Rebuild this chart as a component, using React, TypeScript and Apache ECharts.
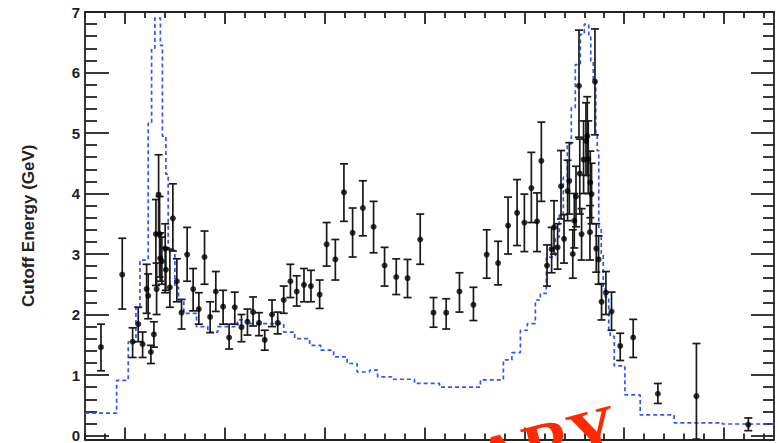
import React, { useEffect, useRef } from "react";
import * as echarts from "echarts";

// Measured cutoff energies: phase, value, lower and upper error bound (GeV)
const PHASE = [
  0.076, 0.0973, 0.1077, 0.1133, 0.1177, 0.1217, 0.1233, 0.126, 0.129, 0.131,
  0.1317, 0.1337, 0.1347, 0.1353, 0.137, 0.1403, 0.141, 0.145, 0.148, 0.152,
  0.1567, 0.1623, 0.1683, 0.174, 0.1797, 0.1853, 0.191, 0.1983, 0.2043, 0.21,
  0.2167, 0.2227, 0.2283, 0.2343, 0.24, 0.2473, 0.253, 0.259, 0.2657, 0.272,
  0.2793, 0.2863, 0.295, 0.302, 0.3107, 0.3193, 0.328, 0.3383, 0.349, 0.36,
  0.3717, 0.383, 0.3957, 0.409, 0.4217, 0.435, 0.449, 0.4623, 0.4737, 0.4837,
  0.4927, 0.5, 0.507, 0.5127, 0.517, 0.5227, 0.5273, 0.5297, 0.5333, 0.5367,
  0.5397, 0.5433, 0.545, 0.5485, 0.55, 0.5517, 0.5547, 0.5555, 0.5573, 0.5593,
  0.5617, 0.563, 0.564, 0.5657, 0.566, 0.5673, 0.5707, 0.572, 0.5743, 0.5773,
  0.5817, 0.5873, 0.596, 0.609, 0.6337, 0.6723, 0.7243,
];
const CUTOFF = [
  1.46, 2.66, 1.55, 1.84, 1.51, 2.42, 2.31, 1.38, 1.67, 3.33,
  2.42, 3.98, 3.33, 2.93, 2.88, 3.09, 2.74, 2.45, 3.59, 2.55,
  2.03, 2.99, 2.42, 2.09, 2.95, 1.96, 2.38, 2.13, 1.62, 2.12,
  1.79, 1.88, 2.04, 1.86, 1.58, 2.0, 1.86, 2.24, 2.55, 2.38,
  2.49, 2.47, 2.33, 3.16, 2.91, 4.02, 3.35, 3.76, 3.45, 2.81,
  2.62, 2.6, 3.24, 2.03, 2.03, 2.38, 2.16, 2.99, 2.85, 3.47,
  3.68, 3.52, 4.09, 3.54, 4.54, 2.81, 3.08, 3.44, 3.11, 4.12,
  3.25, 4.04, 4.21, 3.0, 3.55, 3.95, 5.78, 4.33, 3.33, 4.56,
  4.87, 4.95, 4.57, 3.36, 4.18, 3.99, 5.85, 3.09, 2.91, 2.21,
  2.36, 2.05, 1.48, 1.62, 0.69, 0.65, 0.18,
];
const CUTOFF_LO = [
  1.07, 2.09, 1.29, 1.55, 1.29, 2.02, 1.93, 1.19, 1.46, 2.48,
  2.0, 3.33, 2.62, 2.55, 2.5, 2.36, 2.4, 2.12, 3.05, 2.21,
  1.76, 2.55, 2.06, 1.84, 2.5, 1.7, 2.05, 1.84, 1.43, 1.84,
  1.55, 1.66, 1.81, 1.65, 1.41, 1.8, 1.68, 2.02, 2.28, 2.14,
  2.21, 2.21, 2.1, 2.8, 2.57, 3.54, 2.95, 3.3, 3.02, 2.47,
  2.33, 2.28, 2.83, 1.79, 1.76, 2.04, 1.9, 2.6, 2.49, 3.0,
  3.14, 3.04, 3.52, 3.04, 3.87, 2.47, 2.69, 3.0, 2.75, 3.58,
  2.85, 3.55, 3.66, 2.6, 3.1, 3.45, 4.93, 3.66, 2.9, 4.0,
  4.3, 4.3, 4.0, 2.9, 3.6, 3.5, 4.97, 2.7, 2.5, 1.91,
  2.0, 1.74, 1.24, 1.29, 0.53, -0.06, 0.08,
];
const CUTOFF_HI = [
  1.84, 3.26, 1.78, 2.12, 1.71, 2.83, 2.67, 1.49, 1.88, 3.9,
  2.85, 4.64, 3.95, 3.35, 3.28, 3.5, 3.1, 3.08, 4.16, 2.92,
  2.25, 3.44, 2.76, 2.36, 3.38, 2.21, 2.71, 2.4, 1.84, 2.37,
  2.0, 2.09, 2.29, 2.03, 1.74, 2.24, 2.04, 2.47, 2.83, 2.64,
  2.76, 2.73, 2.57, 3.52, 3.24, 4.49, 3.76, 4.21, 3.87, 3.11,
  2.92, 2.91, 3.66, 2.28, 2.26, 2.69, 2.45, 3.4, 3.21, 3.94,
  4.23, 3.99, 4.68, 4.01, 5.18, 3.15, 3.44, 3.88, 3.5, 4.71,
  3.65, 4.55, 4.84, 3.4, 4.0, 4.45, 6.7, 4.9, 3.75, 5.2,
  5.5, 5.6, 5.2, 3.8, 4.7, 4.5, 6.72, 3.5, 3.3, 2.51,
  2.71, 2.37, 1.69, 1.92, 0.86, 1.52, 0.29,
];

// Model curve: histogram bin left edges (phase) and bin contents (GeV)
const MODEL_EDGE = [
  0.06, 0.0917, 0.1033, 0.111, 0.115, 0.1233, 0.1267, 0.13, 0.1355, 0.1375,
  0.141, 0.1433, 0.15, 0.1537, 0.159, 0.1717, 0.183, 0.193, 0.2125, 0.2235,
  0.259, 0.27, 0.285, 0.296, 0.309, 0.3225, 0.3325, 0.345, 0.353, 0.367,
  0.39, 0.415, 0.456, 0.479, 0.4875, 0.496, 0.503, 0.511, 0.516, 0.522,
  0.531, 0.535, 0.539, 0.543, 0.547, 0.551, 0.556, 0.56, 0.5645, 0.5665,
  0.569, 0.5715, 0.573, 0.5745, 0.577, 0.579, 0.581, 0.5845, 0.586, 0.59,
  0.6007, 0.616, 0.65, 0.6983, 0.75,
];
const MODEL_VALUE = [
  0.37, 0.91, 1.55, 2.13, 2.9, 5.16, 6.4, 6.9, 6.45, 4.95,
  4.32, 3.06, 2.45, 2.24, 2.02, 1.8, 1.71, 1.8, 1.91, 1.85,
  1.71, 1.6, 1.49, 1.41, 1.3, 1.19, 1.05, 1.08, 0.97, 0.93,
  0.86, 0.8, 0.92, 1.25, 1.37, 1.74, 1.85, 2.24, 2.35, 2.95,
  3.28, 3.66, 4.27, 4.82, 5.42, 6.13, 6.63, 6.8, 6.6, 6.19,
  5.86, 4.98, 4.71, 3.44, 3.0, 2.45, 2.29, 1.74, 1.64, 1.15,
  0.67, 0.34, 0.21, 0.19, 0.19,
];

// Axis ranges and tick marks
const X_MIN = 0.06;
const X_MAX = 0.75;
const Y_MIN = -0.065;
const Y_MAX = 7;
const X_MAJOR = [0.1, 0.2, 0.3, 0.4, 0.5, 0.6, 0.7];
const Y_LABELS = [0, 1, 2, 3, 4, 5, 6, 7];

const FRAME = "#222";
const SANS = '"Liberation Sans", Arial, Helvetica, sans-serif';

function minorTicks(from: number, to: number, step: number, majors: number[]) {
  const out: number[] = [];
  for (let i = 0; from + i * step <= to + 1e-9; i++) {
    const v = Math.round((from + i * step) * 1000) / 1000;
    if (!majors.some((m) => Math.abs(m - v) < 1e-6)) out.push(v);
  }
  return out;
}

export default function App() {
  const ref = useRef<HTMLDivElement>(null);

  useEffect(() => {
    if (!ref.current) return;
    const chart = echarts.init(ref.current, undefined, { renderer: "svg" });

    const xMinor = minorTicks(0.06, 0.74, 0.02, X_MAJOR);
    const yMinor = minorTicks(0, 7, 0.2, Y_LABELS);

    const points = PHASE.map((p, i) => [p, CUTOFF[i], CUTOFF_LO[i], CUTOFF_HI[i]]);
    const model = MODEL_EDGE.map((e, i) => [e, MODEL_VALUE[i]]);

    const gridBox = { left: 85, top: 12, width: 689, height: 427.5 };
    const lineStyle = { color: FRAME, width: 1.8 };

    const xAxisBase = (gridIndex: number, position: "top" | "bottom", ticks: number[], len: number, showLine: boolean) => ({
      type: "value" as const,
      gridIndex,
      position,
      min: X_MIN,
      max: X_MAX,
      axisLine: { show: showLine, onZero: false, lineStyle },
      axisTick: { show: true, inside: true, length: len, customValues: ticks, lineStyle },
      axisLabel: { show: false },
      splitLine: { show: false },
    });

    const yAxisBase = (gridIndex: number, position: "left" | "right", ticks: number[], len: number, showLine: boolean, labels: boolean) => ({
      type: "value" as const,
      gridIndex,
      position,
      min: Y_MIN,
      max: Y_MAX,
      axisLine: { show: showLine, onZero: false, lineStyle },
      axisTick: { show: true, inside: true, length: len, customValues: ticks, lineStyle },
      axisLabel: labels
        ? {
            show: true,
            customValues: Y_LABELS,
            margin: 5,
            color: FRAME,
            fontFamily: SANS,
            fontWeight: "bold" as const,
            fontSize: 15,
          }
        : { show: false },
      splitLine: { show: false },
      ...(labels
        ? {
            name: "Cutoff Energy (GeV)",
            nameLocation: "middle" as const,
            nameGap: 48,
            nameTextStyle: { color: FRAME, fontFamily: SANS, fontWeight: "bold" as const, fontSize: 17 },
          }
        : {}),
    });

    chart.setOption({
      animation: false,
      backgroundColor: "#ffffff",
      grid: [
        { ...gridBox, containLabel: false },
        { ...gridBox, containLabel: false },
      ],
      xAxis: [
        xAxisBase(0, "bottom", X_MAJOR, 12, true),
        xAxisBase(0, "top", X_MAJOR, 12, true),
        xAxisBase(1, "bottom", xMinor, 6, false),
        xAxisBase(1, "top", xMinor, 6, false),
      ],
      yAxis: [
        yAxisBase(0, "left", Y_LABELS, 24, true, true),
        yAxisBase(0, "right", Y_LABELS, 23, true, false),
        yAxisBase(1, "left", yMinor, 12, false, false),
        yAxisBase(1, "right", yMinor, 11, false, false),
      ],
      series: [
        {
          name: "model",
          type: "line",
          xAxisIndex: 0,
          yAxisIndex: 0,
          step: "end",
          data: model,
          symbol: "none",
          lineStyle: { color: "#2f55ff", width: 1.7, type: [4, 3] },
          z: 2,
        },
        {
          name: "errors",
          type: "custom",
          xAxisIndex: 0,
          yAxisIndex: 0,
          data: points,
          encode: { x: 0, y: [1, 2, 3] },
          renderItem: (params: any, api: any) => {
            const x = api.value(0);
            const lo = api.coord([x, api.value(2)]);
            const hi = api.coord([x, api.value(3)]);
            const cap = 4;
            const st = { stroke: "#1a1a1a", lineWidth: 1.7 };
            return {
              type: "group",
              children: [
                { type: "line", shape: { x1: lo[0], y1: lo[1], x2: hi[0], y2: hi[1] }, style: st },
                { type: "line", shape: { x1: hi[0] - cap, y1: hi[1], x2: hi[0] + cap, y2: hi[1] }, style: st },
                { type: "line", shape: { x1: lo[0] - cap, y1: lo[1], x2: lo[0] + cap, y2: lo[1] }, style: st },
              ],
            };
          },
          z: 3,
        },
        {
          name: "points",
          type: "scatter",
          xAxisIndex: 0,
          yAxisIndex: 0,
          data: points.map((p) => [p[0], p[1]]),
          symbol: "circle",
          symbolSize: 6,
          itemStyle: { color: "#000" },
          z: 4,
        },
      ],
      graphic: [
        {
          type: "text",
          x: 617,
          y: 426,
          rotation: (15 * Math.PI) / 180,
          z: 100,
          style: {
            text: "PRELIMINARY",
            fontFamily: '"Liberation Serif", "Times New Roman", serif',
            fontWeight: "bold",
            fontSize: 68,
            fill: "#ff2a00",
            align: "right",
            verticalAlign: "middle",
          },
        },
      ],
    });

    return () => chart.dispose();
  }, []);

  return (
    <div
      ref={ref}
      style={{ position: "absolute", left: 0, top: 0, width: 778, height: 443, background: "#fff" }}
    />
  );
}
